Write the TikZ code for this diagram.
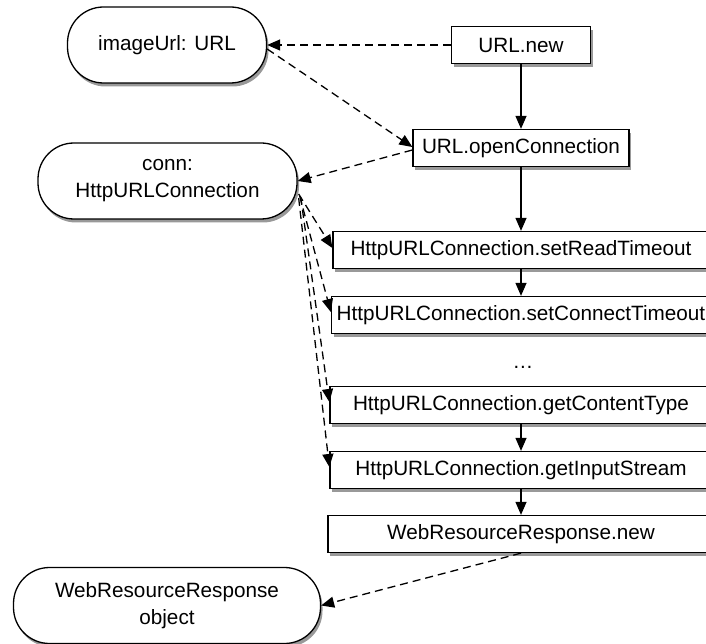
\documentclass[tikz,border=0pt]{standalone}
\usepackage{fontspec}
\setmainfont{Liberation Sans}
\usetikzlibrary{arrows.meta,shadows}
\begin{document}
\begin{tikzpicture}[x=1pt,y=-1pt,
  every node/.style={font=\fontsize{20.7}{27}\selectfont},
  boxshadow/.style={drop shadow={shadow xshift=2pt,shadow yshift=-3.5pt,fill=black,opacity=0.4}},
  callbox/.style={draw,line width=1.3pt,fill=white,boxshadow,rectangle,inner sep=0pt,minimum height=37pt},
  objnode/.style={draw,line width=1.3pt,fill=white,boxshadow,rectangle,rounded corners=36pt,inner sep=0pt,minimum height=76pt,align=center},
  flow/.style={-{Triangle[length=13pt,width=11pt]},line width=1.3pt},
  dep/.style={flow,dash pattern=on 8pt off 5pt}]

\fill[white] (0,0) rectangle (706,644);
\useasboundingbox (0,0) rectangle (706,644);

% objects
\node[objnode,minimum width=199pt] (img) at (167,45) {imageUrl: URL};
\node[objnode,minimum width=259pt] (conn) at (167.5,181) {conn:\\HttpURLConnection};
\node[objnode,minimum width=307pt] (obj) at (167,605.5) {WebResourceResponse\\object};

% calls
\node[callbox,minimum width=139pt] (new) at (521,45) {URL.new};
\node[callbox,minimum width=216pt] (open) at (521,148) {URL.openConnection};
\node[callbox,minimum width=376pt] (read) at (521,250) {HttpURLConnection.setReadTimeout};
\node[callbox,minimum width=379pt] (connect) at (521,315) {HttpURLConnection.setConnectTimeout};
\node[inner sep=0pt] (dots) at (523,367) {…};
\node[callbox,minimum width=382pt] (content) at (521,405) {HttpURLConnection.getContentType};
\node[callbox,minimum width=382pt] (input) at (521,470) {HttpURLConnection.getInputStream};
\node[callbox,minimum width=386pt] (wrr) at (521,534) {WebResourceResponse.new};

% control flow
\draw[flow] (new) -- (open);
\draw[flow] (open) -- (read);
\draw[flow] (read) -- (connect);
\draw[flow] (content) -- (input);
\draw[flow] (input) -- (wrr);

% object links
\draw[dep] (new) -- (img);
\draw[dep] ([yshift=-4pt]img.east) -- ([yshift=1pt]open.west);
\draw[dep] ([yshift=-2pt]open.west) -- (conn.east);
\draw[dep] ([xshift=1pt,yshift=-13pt]conn.east) -- ([yshift=2pt]read.west);
\draw[dep] ([xshift=2pt,yshift=-15pt]conn.east) -- ([yshift=3pt]connect.west);
\draw[dep] ([xshift=3pt,yshift=-16pt]conn.east) -- ([yshift=3pt]content.west);
\draw[dep] ([xshift=1pt,yshift=-17pt]conn.east) -- ([yshift=3pt]input.west);
\draw[dep] (wrr.south) -- (obj.east);
\end{tikzpicture}
\end{document}
